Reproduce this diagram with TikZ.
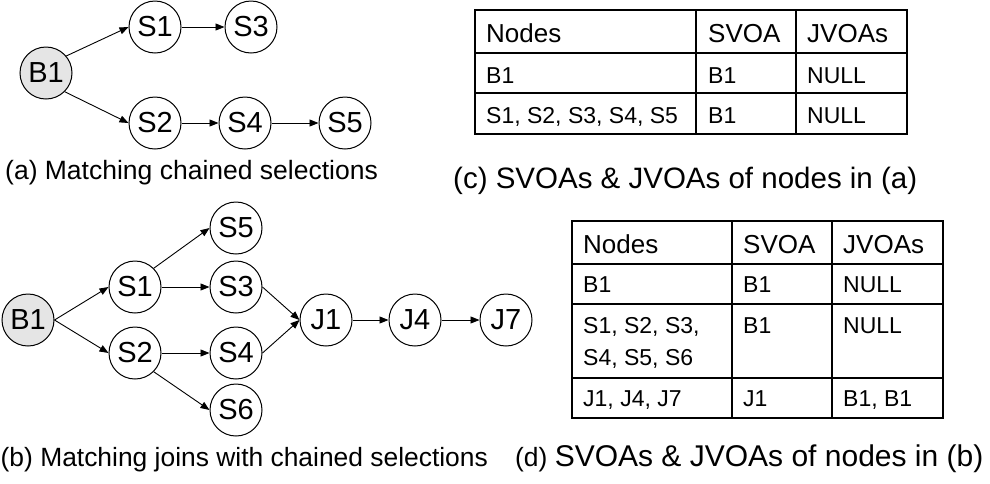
\documentclass[tikz,border=0pt]{standalone}
\usepackage{fontspec}
\setmainfont{Liberation Sans}
\usetikzlibrary{arrows.meta}
\newcommand{\fsz}[1]{\fontsize{#1}{#1}\selectfont}
\begin{document}
\begin{tikzpicture}[x=1pt,y=-1pt,
  vtx/.style={circle,draw,line width=1pt,minimum size=52pt,inner sep=0pt,font=\fsz{29}},
  rootvtx/.style={vtx,fill=black!10},
  link/.style={-{Triangle[length=9pt,width=7pt]},line width=0.9pt},
  grid/.style={line width=1.4pt},
  hd/.style={anchor=base west,inner sep=0pt,font=\fsz{26}},
  cell/.style={anchor=base west,inner sep=0pt,font=\fsz{23}},
  capt/.style={anchor=base west,inner sep=0pt}]
\useasboundingbox (0,0) rectangle (990,483);

% (a) chained selections
\node[rootvtx] (aB1) at (46,73) {B1};
\node[vtx] (aS1) at (155,27) {S1};
\node[vtx] (aS3) at (251,27) {S3};
\node[vtx] (aS2) at (155,123) {S2};
\node[vtx] (aS4) at (245,123) {S4};
\node[vtx] (aS5) at (345,123) {S5};
\draw[link] (aB1.40) -- (aS1.west);
\draw[link] (aB1.-45) -- (aS2.west);
\draw[link] (aS1.east) -- (aS3.west);
\draw[link] (aS2.east) -- (aS4.west);
\draw[link] (aS4.east) -- (aS5.west);
\node[capt,font=\fsz{26.5}] (capa) at (5,179) {(a) Matching chained selections};

% (c) table for (a)
\draw[grid] (475,10) rectangle (907,134);
\draw[grid] (475,53) -- (907,53) (475,93) -- (907,93)
            (696,10) -- (696,134) (796,10) -- (796,134);
\node[hd] at (486,42) {Nodes};
\node[hd] at (708,42) {SVOA};
\node[hd] at (807,42) {JVOAs};
\node[cell] at (486,83) {B1};
\node[cell] at (708,83) {B1};
\node[cell] at (807,83) {NULL};
\node[cell] at (486,123) {S1, S2, S3, S4, S5};
\node[cell] at (708,123) {B1};
\node[cell] at (807,123) {NULL};
\node[capt,font=\fsz{29.5}] (capc) at (453,188) {(c) SVOAs \& JVOAs of nodes in (a)};

% (b) joins with chained selections
\node[rootvtx] (bB1) at (28,320) {B1};
\node[vtx] (bS1) at (135,287) {S1};
\node[vtx] (bS2) at (135,353) {S2};
\node[vtx] (bS5) at (236,228) {S5};
\node[vtx] (bS3) at (236,287) {S3};
\node[vtx] (bS4) at (236,353) {S4};
\node[vtx] (bS6) at (236,410) {S6};
\node[vtx] (bJ1) at (326,320) {J1};
\node[vtx] (bJ4) at (415,320) {J4};
\node[vtx] (bJ7) at (506,320) {J7};
\draw[link] (bB1.east) -- (bS1.west);
\draw[link] (bB1.east) -- (bS2.west);
\draw[link] (bS1.north east) -- (bS5.west);
\draw[link] (bS1.east) -- (bS3.west);
\draw[link] (bS2.east) -- (bS4.west);
\draw[link] (bS2.south east) -- (bS6.west);
\draw[link] (bS3.east) -- (bJ1.west);
\draw[link] (bS4.east) -- (bJ1.west);
\draw[link] (bJ1.east) -- (bJ4.west);
\draw[link] (bJ4.east) -- (bJ7.west);
\node[capt,font=\fsz{26.4}] (capb) at (0.5,466) {(b) Matching joins with chained selections};

% (d) table for (b)
\draw[grid] (572,221) rectangle (943,418);
\draw[grid] (572,264) -- (943,264) (572,304) -- (943,304) (572,378) -- (943,378)
            (732,221) -- (732,418) (832,221) -- (832,418);
\node[hd] at (583,253) {Nodes};
\node[hd] at (743,253) {SVOA};
\node[hd] at (843,253) {JVOAs};
\node[cell] at (583,292) {B1};
\node[cell] at (743,292) {B1};
\node[cell] at (843,292) {NULL};
\node[cell] at (583,333) {S1, S2, S3,};
\node[cell] at (583,365) {S4, S5, S6};
\node[cell] at (743,333) {B1};
\node[cell] at (843,333) {NULL};
\node[cell] at (583,406) {J1, J4, J7};
\node[cell] at (743,406) {J1};
\node[cell] at (843,406) {B1, B1};
\node[capt] (capd) at (515,466) {\fsz{26.4}(d) \fsz{30}SVOAs \& JVOAs of nodes in (b)};
\end{tikzpicture}
\end{document}
